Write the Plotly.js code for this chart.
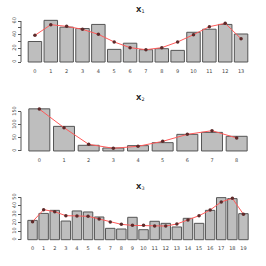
<!DOCTYPE html>
<html><head><meta charset="utf-8">
<script src="https://cdn.plot.ly/plotly-3.0.1.min.js"></script>
<style>html,body{margin:0;padding:0;background:#fff}#c{width:266px;height:266px}</style>
</head><body><div id="c"></div>
<script>
const cats1 = ["0","1","2","3","4","5","6","7","8","9","10","11","12","13"];
const bars1 = [30,61,51,49,55,18.5,27.5,18,19.5,17,43.5,48,55,41];
const line1 = [39,54.6,52.2,47.8,40.5,29.3,21,18,21,29.3,40,51.7,56.6,34];

const cats2 = ["0","1","2","3","4","5","6","7","8"];
const bars2 = [161,94,21.6,11.4,20.3,31.8,63.5,71,56];
const line2 = [160,89,25.4,10.2,17.8,36.8,63.5,77.5,49.6];

const cats3 = ["0","1","2","3","4","5","6","7","8","9","10","11","12","13","14","15","16","17","18","19"];
const bars3 = [22.8,31,34.6,22,33.9,32.7,26.8,13.4,12.6,26.4,11.8,21.7,19.3,15,25.2,19.3,34.6,49.6,48.4,30.7];
const line3 = [21.3,35.4,33,28.3,28,27.6,24.4,20.9,18.1,16.9,16.9,16.1,16.1,18.5,23.2,28.3,35,44.5,48.8,30];

const titles = ["<b>X</b><sub>1</sub>","<b>X</b><sub>2</sub>","<b>X</b><sub>3</sub>"];
const yticks1 = [0,20,40,60];
const yticks2 = [0,50,100,150];
const yticks3 = [0,10,20,30,40,50];

const panels = [
  {cats:cats1, bars:bars1, line:line1, range:[-2.5,63.5], dom:[0.7605,0.930], tickvals:yticks1, minor:10, titleY:1-10/266},
  {cats:cats2, bars:bars2, line:line2, range:[-7,168], dom:[0.4256,0.5977], tickvals:yticks2, minor:null, titleY:1-98/266},
  {cats:cats3, bars:bars3, line:line3, range:[-2,52], dom:[0.0925,0.2647], tickvals:yticks3, minor:null, titleY:1-187/266}
];

const data = [];
const layout = {
  width:266, height:266, margin:{l:0,r:0,t:0,b:0},
  paper_bgcolor:"#fff", plot_bgcolor:"#fff", showlegend:false,
  bargap:0.15, annotations:[], shapes:[], font:{family:"DejaVu Sans", color:"#444"}
};
panels.forEach((p,i)=>{
  const k = i===0 ? "" : String(i+1);
  const xa = "x"+k, ya = "y"+k;
  data.push({type:"bar", x:p.cats, y:p.bars, xaxis:xa, yaxis:ya,
    marker:{color:"#bebebe", line:{color:"#555555", width:1}}, hoverinfo:"skip"});
  data.push({type:"scatter", mode:"lines+markers", x:p.cats, y:p.line, xaxis:xa, yaxis:ya,
    line:{color:"#ff5a5a", width:1}, marker:{color:"#5e2a2a", size:3.5}, hoverinfo:"skip"});
  layout["xaxis"+k] = {domain:[27/266, 249/266], anchor:ya, type:"category",
    range:[-0.5, p.cats.length-0.5], showline:false, showgrid:false, zeroline:false,
    ticks:"", tickfont:{size:5, color:"#444"}, ticklabelstandoff:3, fixedrange:true};
  const yax = {domain:p.dom, anchor:"free", position:21/266, range:p.range,
    showline:false, showgrid:false, zeroline:false,
    ticks:"outside", ticklen:3, tickcolor:"#555", tickvals:p.tickvals,
    tickangle:-90, tickfont:{size:5, color:"#444"}, fixedrange:true};
  if (p.minor) yax.minor = {dtick:p.minor, ticks:"outside", ticklen:3, tickcolor:"#555"};
  layout["yaxis"+k] = yax;
  layout.shapes.push({type:"line", xref:"paper", yref:ya, x0:21/266, x1:21/266,
    y0:p.tickvals[0], y1:p.tickvals[p.tickvals.length-1], line:{color:"#555", width:1}});
  layout.annotations.push({text:titles[i], xref:"paper", yref:"paper", x:140/266, y:p.titleY,
    showarrow:false, xanchor:"center", yanchor:"middle", font:{size:7, color:"#222"}});
});
Plotly.newPlot("c", data, layout, {staticPlot:true, displayModeBar:false});
</script></body></html>
